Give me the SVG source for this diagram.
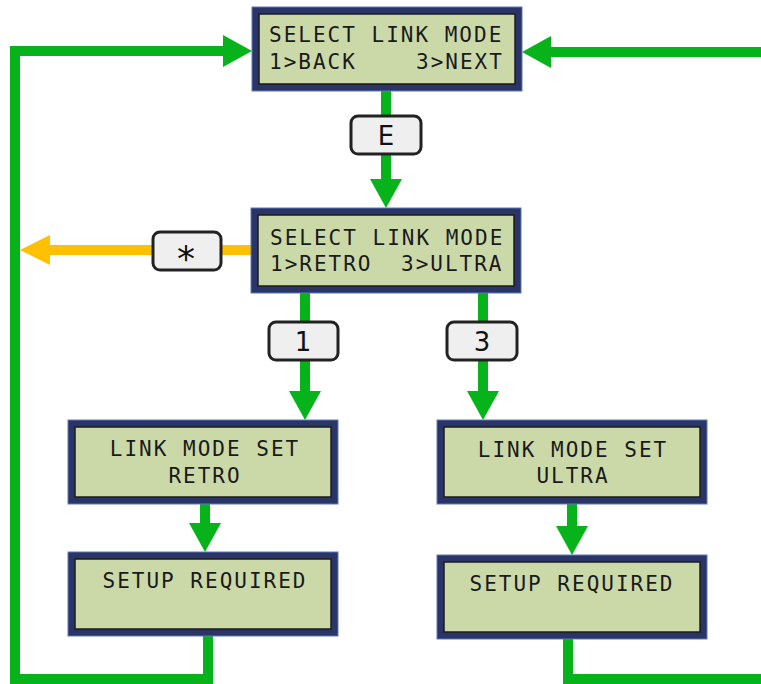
<svg xmlns="http://www.w3.org/2000/svg" width="761" height="684" viewBox="0 0 761 684">
<style>
.outer{fill:#2b3466;stroke:#5b7bb5;stroke-width:1}
.inner{fill:#cbd9a9;stroke:#1d1d1d;stroke-width:1.5}
.lcd{font-family:"DejaVu Sans Mono",monospace;font-size:21px;letter-spacing:2px;fill:#1a1a1a}
.mid{text-anchor:middle}
.g{fill:none;stroke:#07b31a;stroke-width:10;stroke-linejoin:miter}
.o{fill:none;stroke:#ffc000;stroke-width:10}
.key{fill:#efefef;stroke:#222;stroke-width:3}
.keyt{font-family:"DejaVu Sans",sans-serif;font-size:26px;fill:#111;text-anchor:middle}
</style>
<defs>
<marker id="ag" markerUnits="userSpaceOnUse" markerWidth="29" markerHeight="32" refX="0" refY="16" orient="auto"><path d="M0,0 L29,16 L0,32 z" fill="#07b31a"/></marker>
<marker id="ao" markerUnits="userSpaceOnUse" markerWidth="30" markerHeight="30" refX="0" refY="15" orient="auto"><path d="M0,0 L30,15 L0,30 z" fill="#ffc000"/></marker>
</defs>
<g id="connectors">
<path class="g" d="M386,91 V179" marker-end="url(#ag)"/>
<path class="g" d="M305,293 V391" marker-end="url(#ag)"/>
<path class="g" d="M483,293 V391" marker-end="url(#ag)"/>
<path class="g" d="M205,504 V523" marker-end="url(#ag)"/>
<path class="g" d="M572,504 V526" marker-end="url(#ag)"/>
<path class="o" d="M251,250 H50" marker-end="url(#ao)"/>
<path class="g" d="M208,636 V679 H15 V51 H223" marker-end="url(#ag)"/>
<path class="g" d="M761,52 H551" marker-end="url(#ag)"/>
<path class="g" d="M568,639 V679 H761"/>
<g id="key-E"><rect class="key" x="351" y="116" width="70" height="38" rx="7"/><text class="keyt" x="386" y="145">E</text></g>
<g id="key-star"><rect class="key" x="153" y="232" width="68" height="38" rx="7"/><text class="keyt" x="186" y="271" style="font-size:36px">*</text></g>
<g id="key-1"><rect class="key" x="269" y="322" width="69" height="38" rx="7"/><text class="keyt" x="303" y="351">1</text></g>
<g id="key-3"><rect class="key" x="447" y="322" width="70" height="38" rx="7"/><text class="keyt" x="482" y="351">3</text></g>
</g>
<g id="select-back-next">
<rect class="outer" x="252" y="7" width="270" height="84"/>
<rect class="inner" x="259" y="14" width="256" height="70"/>
<text class="lcd" x="269" y="42">SELECT LINK MODE</text>
<text class="lcd" y="69"><tspan x="269">1&gt;BACK</tspan><tspan x="416">3&gt;NEXT</tspan></text>
</g>
<g id="select-retro-ultra">
<rect class="outer" x="251" y="208" width="270" height="85"/>
<rect class="inner" x="258" y="215" width="256" height="71"/>
<text class="lcd" x="270" y="245">SELECT LINK MODE</text>
<text class="lcd" y="271"><tspan x="270">1&gt;RETRO</tspan><tspan x="401">3&gt;ULTRA</tspan></text>
</g>
<g id="set-retro">
<rect class="outer" x="68" y="420" width="270" height="84"/>
<rect class="inner" x="75" y="427" width="256" height="70"/>
<text class="lcd mid" x="205" y="456">LINK MODE SET</text>
<text class="lcd mid" x="205" y="483">RETRO</text>
</g>
<g id="set-ultra">
<rect class="outer" x="437" y="420" width="270" height="84"/>
<rect class="inner" x="444" y="427" width="256" height="70"/>
<text class="lcd mid" x="573" y="457">LINK MODE SET</text>
<text class="lcd mid" x="573" y="483">ULTRA</text>
</g>
<g id="setup-retro">
<rect class="outer" x="68" y="552" width="270" height="84"/>
<rect class="inner" x="75" y="559" width="256" height="70"/>
<text class="lcd mid" x="205" y="588">SETUP REQUIRED</text>
</g>
<g id="setup-ultra">
<rect class="outer" x="437" y="555" width="270" height="84"/>
<rect class="inner" x="444" y="562" width="256" height="70"/>
<text class="lcd mid" x="572" y="591">SETUP REQUIRED</text>
</g>
</svg>
